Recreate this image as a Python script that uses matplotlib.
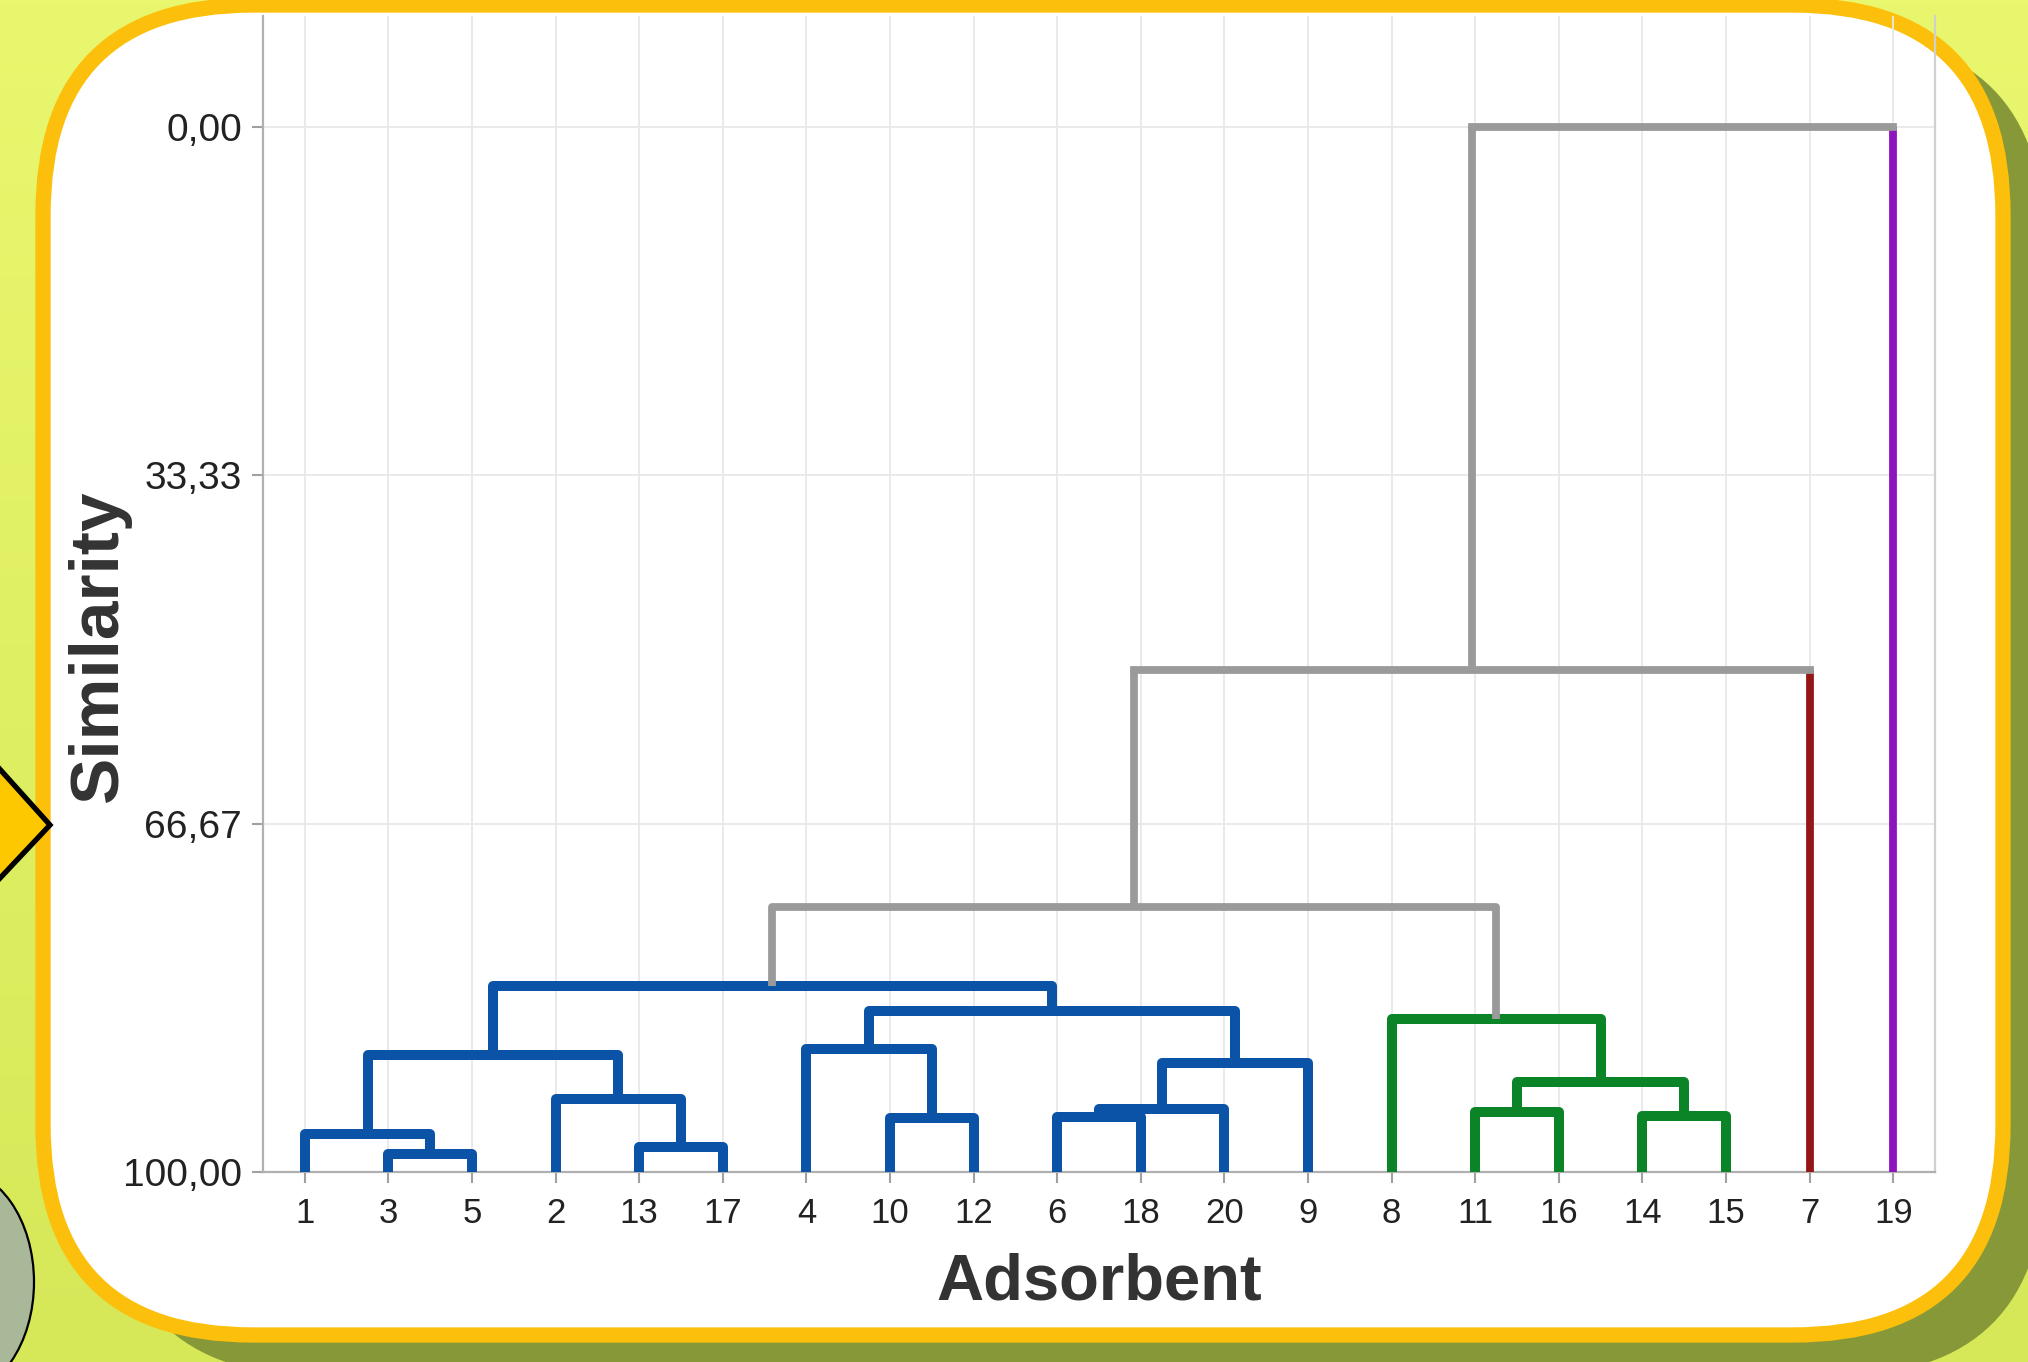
import matplotlib

matplotlib.use("Agg")
import matplotlib.pyplot as plt
import numpy as np
from matplotlib.patches import Ellipse, FancyBboxPatch, Polygon

# leaves in the order they appear on the x axis
leaf_labels = ["1", "3", "5", "2", "13", "17", "4", "10", "12", "6",
               "18", "20", "9", "8", "11", "16", "14", "15", "7", "19"]
leaf_groups = ["A"] * 13 + ["B"] * 5 + ["C", "D"]

# merges: ids 0..19 are leaves (by position), 20+ are the merges below in order
merge_left = [1, 0, 4, 3, 21, 7, 6, 9, 27, 28, 26, 24, 14, 16, 32, 13, 31, 36, 37]
merge_right = [2, 20, 5, 22, 23, 8, 25, 10, 11, 12, 29, 30, 15, 17, 33, 34, 35, 18, 19]
merge_height = [98.3, 96.4, 97.6, 93.0, 88.8, 94.8, 88.2, 94.7, 94.0, 89.6,
                84.6, 82.2, 94.3, 94.6, 91.4, 85.4, 74.6, 52.0, 0.0]

y_ticks = [0, 33.33, 66.67, 100]
y_ticklabels = ["0,00", "33,33", "66,67", "100,00"]

group_colors = {"A": "#0b53a7", "B": "#0b8428", "C": "#961515", "D": "#8e14be"}
group_widths = {"A": 7.2, "B": 7.2, "C": 5.6, "D": 5.6}
link_gray = "#9a9a9a"

W, H = 2028, 1362
plt.rcParams["font.family"] = ["Liberation Sans", "DejaVu Sans"]
fig = plt.figure(figsize=(W / 100, H / 100), dpi=100)

# ---- decorative background (pixel coordinates, origin bottom-left)
bg = fig.add_axes([0, 0, 1, 1])
bg.set_xlim(0, W)
bg.set_ylim(0, H)
bg.axis("off")
grad = np.linspace(0, 1, 256)[:, None]
top_c = np.array([0xE9, 0xF7, 0x6E]) / 255
bot_c = np.array([0xD6, 0xE8, 0x58]) / 255
img = top_c[None, None, :] * (1 - grad[..., None]) + bot_c[None, None, :] * grad[..., None]
bg.imshow(img, extent=[0, W, 0, H], aspect="auto", origin="upper", zorder=0)

shadow = FancyBboxPatch((110, -14), 1935, 1340, boxstyle="round,pad=0,rounding_size=210",
                        facecolor="#879838", edgecolor="none", zorder=1)
bg.add_patch(shadow)
box = FancyBboxPatch((43, 27), 1960, 1330, boxstyle="round,pad=0,rounding_size=210",
                     facecolor="white", edgecolor="#fcbf0b", linewidth=11, zorder=2)
bg.add_patch(box)
arrow = Polygon([(-30, H - 736), (50, H - 825), (-30, H - 910)], closed=True,
                facecolor="#fdc800", edgecolor="black", linewidth=3.8, zorder=3)
bg.add_patch(arrow)
blob = Ellipse((-45, H - 1282), 158, 226, facecolor="#a9b898", edgecolor="black",
               linewidth=1.6, zorder=3)
bg.add_patch(blob)

# ---- dendrogram
top_px = 16
ax = fig.add_axes([263 / W, 1 - 1172 / H, (1935 - 263) / W, (1172 - top_px) / H])
ax.set_zorder(2)
ax.set_facecolor("none")

n = len(leaf_labels)
xs = list(range(n))
hs = [100.0] * n
grp = list(leaf_groups)
for left, right, h in zip(merge_left, merge_right, merge_height):
    g = grp[left] if grp[left] == grp[right] else None
    col = group_colors.get(g, link_gray)
    lw = group_widths.get(g, 5.6)
    legs = []
    for c in (left, right):
        if c < n:
            legs.append((group_colors[grp[c]], group_widths[grp[c]]))
        else:
            legs.append((col, lw))
    if all(lc == col for lc, _ in legs):
        ax.plot([xs[left], xs[left], xs[right], xs[right]], [hs[left], h, h, hs[right]],
                color=col, lw=lw, solid_joinstyle="round", solid_capstyle="butt", zorder=3)
    else:
        for c, (lc, llw) in zip((left, right), legs):
            ax.plot([xs[c], xs[c]], [hs[c], h], color=lc, lw=llw,
                    solid_capstyle="butt", zorder=3)
        ax.plot([xs[left], xs[right]], [h, h], color=col, lw=lw,
                solid_capstyle="projecting", zorder=4)
    xs.append((xs[left] + xs[right]) / 2)
    hs.append(h)
    grp.append(g)

ax.set_xlim(-0.5, n - 0.5)
ax.set_ylim(100, (top_px - 127) / 1045 * 100)
ax.set_xticks(range(n), leaf_labels)
ax.set_yticks(y_ticks, y_ticklabels)
ax.tick_params(axis="both", color="#a0a0a0", length=8, width=1.5, labelcolor="#222222")
ax.tick_params(axis="x", labelsize=25, pad=10)
ax.tick_params(axis="y", labelsize=28, pad=7)
ax.set_axisbelow(True)
ax.grid(True, color="#e8e8e8", linewidth=1.3)
for side in ("left", "bottom"):
    ax.spines[side].set_color("#b0b0b0")
    ax.spines[side].set_linewidth(1.6)
ax.spines["right"].set_color("#d0d0d0")
ax.spines["right"].set_linewidth(1.6)
ax.spines["top"].set_visible(False)

span = 1172 - top_px
ax.set_xlabel("Adsorbent", fontsize=47, fontweight="bold", color="#333333", va="center")
ax.xaxis.set_label_coords(0.5, (1172 - 1283) / span)
ax.set_ylabel("Similarity", fontsize=50, fontweight="bold", color="#333333", va="center")
ax.yaxis.set_label_coords((99 - 263) / 1672, (1172 - 646) / span)

fig.savefig("out.png", dpi=100)
